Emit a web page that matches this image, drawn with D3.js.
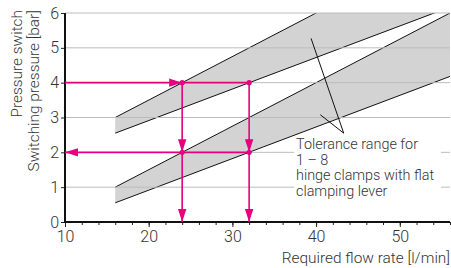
<!DOCTYPE html>
<meta charset="utf-8" />
<script src="https://d3js.org/d3.v7.min.js"></script>
<style>
  body { margin: 0; background: #fff; }
  text { font-family: Roboto, "Liberation Sans", sans-serif; font-weight: 300; fill: #333; }
</style>
<body>
<div id="chart"></div>
<script>
  // flow rate [l/min] where the bands start / end
  const bandX = [16, 56];
  // upper band (switching pressure)
  const bandAUpper = [3, 8];
  const bandALower = [2.55, 6.17];
  // lower band
  const bandBUpper = [1, 6];
  const bandBLower = [0.55, 4.18];

  // example readings
  const flowReadings = [24, 32];
  const pressureReadings = [4, 2];

  const xTicks = [10, 20, 30, 40, 50];
  const xMinorTicks = d3.range(10, 57, 2);
  const yTicks = [0, 1, 2, 3, 4, 5, 6];

  const noteLines = ["Tolerance range for", "1 – 8", "hinge clamps with flat", "clamping lever"];
  // leader lines: start points inside the bands, ending at a common point
  const leaderStarts = [[39.4, 5.27], [40.5, 3.08]];
  const leaderEnd = [43.3, 2.55];

  const width = 451, height = 268;
  const pink = "#e5007d";

  const svg = d3.select("#chart").append("svg")
    .attr("width", width)
    .attr("height", height);

  const x = d3.scaleLinear().domain([10, 56]).range([65, 450]);
  const y = d3.scaleLinear().domain([0, 6]).range([222, 13]);

  svg.append("clipPath").attr("id", "plot")
    .append("rect")
    .attr("x", x(10)).attr("y", y(6))
    .attr("width", x(56) - x(10)).attr("height", y(0) - y(6));

  const plot = svg.append("g").attr("clip-path", "url(#plot)");

  const bands = [[bandAUpper, bandALower], [bandBUpper, bandBLower]];

  // band fills
  bands.forEach(function (b) {
    const pts = [
      [bandX[0], b[0][0]], [bandX[1], b[0][1]],
      [bandX[1], b[1][1]], [bandX[0], b[1][0]]
    ];
    plot.append("path")
      .attr("d", d3.line().x(d => x(d[0])).y(d => y(d[1]))(pts) + "Z")
      .attr("fill", "#d3d3d3");
  });

  // grid lines
  svg.append("g")
    .selectAll("line")
    .data(yTicks.filter(d => d > 0))
    .join("line")
    .attr("x1", x(10)).attr("x2", x(56))
    .attr("y1", d => y(d)).attr("y2", d => y(d))
    .attr("stroke", "#bcbcbc")
    .attr("stroke-width", 1);

  // band edges
  bands.forEach(function (b) {
    b.forEach(function (edge) {
      plot.append("line")
        .attr("x1", x(bandX[0])).attr("y1", y(edge[0]))
        .attr("x2", x(bandX[1])).attr("y2", y(edge[1]))
        .attr("stroke", "#111")
        .attr("stroke-width", 1);
    });
  });

  // leader lines
  leaderStarts.forEach(function (s) {
    svg.append("line")
      .attr("x1", x(s[0])).attr("y1", y(s[1]))
      .attr("x2", x(leaderEnd[0])).attr("y2", y(leaderEnd[1]))
      .attr("stroke", "#111")
      .attr("stroke-width", 1);
  });

  // axes
  const xAxis = svg.append("g")
    .attr("transform", `translate(0,${y(0)})`)
    .call(d3.axisBottom(x).tickValues(xMinorTicks).tickSize(3).tickFormat(""));
  xAxis.select(".domain").remove();
  xAxis.selectAll("line").attr("stroke", "#222");

  const xAxisMajor = svg.append("g")
    .attr("transform", `translate(0,${y(0)})`)
    .call(d3.axisBottom(x).tickValues(xTicks).tickSize(5).tickPadding(4).tickFormat(d3.format("d")));
  xAxisMajor.select(".domain").remove();
  xAxisMajor.selectAll("line").attr("stroke", "#222");
  xAxisMajor.selectAll("text").attr("font-size", 16).attr("fill", "#333");

  const yAxis = svg.append("g")
    .attr("transform", `translate(${x(10)},0)`)
    .call(d3.axisLeft(y).tickValues(yTicks).tickSize(4).tickPadding(2).tickFormat(d3.format("d")));
  yAxis.select(".domain").remove();
  yAxis.selectAll("line").attr("stroke", "#222");
  yAxis.selectAll("text").attr("font-size", 16).attr("fill", "#333");
  svg.selectAll(".tick text").style("font-family", "Roboto, 'Liberation Sans', sans-serif");

  svg.append("line")
    .attr("x1", x(10)).attr("x2", x(56))
    .attr("y1", y(0)).attr("y2", y(0))
    .attr("stroke", "#111").attr("stroke-width", 2);
  svg.append("line")
    .attr("x1", x(10)).attr("x2", x(10))
    .attr("y1", y(6)).attr("y2", y(0) + 1)
    .attr("stroke", "#111").attr("stroke-width", 2);

  // reading lines
  const g = svg.append("g");
  const f0 = flowReadings[0], f1 = flowReadings[1];
  const p0 = pressureReadings[0], p1 = pressureReadings[1];
  const segs = [
    [[10, p0], [f1, p0]],
    [[f0, p0], [f0, 0]],
    [[f1, p0], [f1, 0]],
    [[f1, p1], [10, p1]]
  ];
  segs.forEach(function (s) {
    g.append("line")
      .attr("x1", x(s[0][0])).attr("y1", y(s[0][1]))
      .attr("x2", x(s[1][0])).attr("y2", y(s[1][1]))
      .attr("stroke", pink)
      .attr("stroke-width", 1.6);
  });

  // arrowheads: tip point and direction
  function arrow(px, py, dir) {
    const L = 13, W = 4.2;
    const tx = x(px), ty = y(py);
    let pts;
    if (dir === "right") pts = [[tx, ty], [tx - L, ty - W], [tx - L, ty + W]];
    if (dir === "left") pts = [[tx, ty], [tx + L, ty - W], [tx + L, ty + W]];
    if (dir === "down") pts = [[tx, ty], [tx - W, ty - L], [tx + W, ty - L]];
    g.append("path")
      .attr("d", "M" + pts.join("L") + "Z")
      .attr("fill", pink);
  }
  arrow(f0, p0, "right");
  arrow(f0, p1, "down");
  arrow(f1, p1, "down");
  arrow(f0, 0, "down");
  arrow(f1, 0, "down");
  arrow(10, p1, "left");

  const dots = [[f0, p0], [f1, p0], [f0, p1], [f1, p1]];
  g.selectAll("circle")
    .data(dots)
    .join("circle")
    .attr("cx", d => x(d[0]))
    .attr("cy", d => y(d[1]))
    .attr("r", 2.6)
    .attr("fill", pink);

  // annotation, on a white box that hides the grid behind it
  svg.append("rect")
    .attr("x", 294).attr("y", 136)
    .attr("width", 147).attr("height", 64)
    .attr("fill", "#fff");
  svg.append("g")
    .selectAll("text")
    .data(noteLines)
    .join("text")
    .attr("x", 296)
    .attr("y", (d, i) => 149 + i * 15.6)
    .attr("font-size", 14.4)
    .text(d => d);

  // axis titles
  svg.append("text")
    .attr("x", 450)
    .attr("y", 263)
    .attr("text-anchor", "end")
    .attr("font-size", 15.4)
    .text("Required flow rate [l/min]");

  const yTitle = svg.append("text")
    .attr("transform", "translate(22,10) rotate(-90)")
    .attr("text-anchor", "end")
    .attr("font-size", 15.4);
  yTitle.append("tspan").attr("x", 0).attr("y", 0).text("Pressure switch");
  yTitle.append("tspan").attr("x", 0).attr("y", 17).text("Switching pressure [bar]");
</script>
</body>
